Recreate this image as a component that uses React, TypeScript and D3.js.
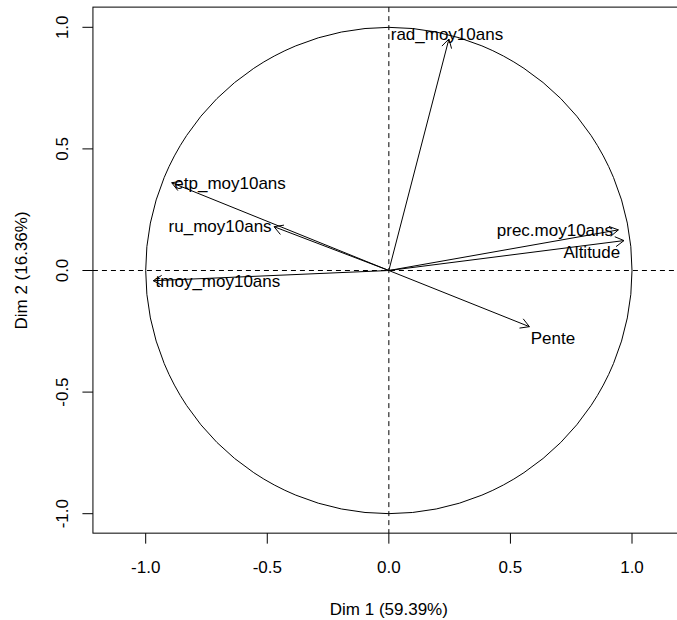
import React from "react";
import { scaleLinear } from "d3";

// variables factor map (PCA), coordinates on Dim 1 / Dim 2
const variables = ["rad_moy10ans", "etp_moy10ans", "ru_moy10ans", "tmoy_moy10ans", "prec.moy10ans", "Altitude", "Pente"];
const dim1 = [0.247, -0.893, -0.472, -0.969, 0.944, 0.967, 0.578];
const dim2 = [0.952, 0.361, 0.18, -0.042, 0.167, 0.123, -0.231];
// label anchors (after auto-placement), in factor units
const labelX = [0.239, -0.653, -0.694, -0.703, 0.683, 0.835, 0.675];
const labelY = [0.972, 0.36, 0.183, -0.043, 0.167, 0.076, -0.278];

const ticks = [-1, -0.5, 0, 0.5, 1];
const xTitle = "Dim 1 (59.39%)";
const yTitle = "Dim 2 (16.36%)";

const W = 677;
const H = 620;
const FONT = "'Liberation Sans', Arial, sans-serif";

const App = () => {
  const x = scaleLinear().domain([-1, 1]).range([145.7, 632]);
  const y = scaleLinear().domain([-1, 1]).range([513.7, 27.3]);
  const xlim = [-1.217, 1.217];
  const ylim = [-1.08, 1.083];
  const left = x(xlim[0]);
  const right = x(xlim[1]);
  const top = y(ylim[1]);
  const bottom = y(ylim[0]);
  const r = x(1) - x(0);
  const head = 10;

  const arrowHead = (x0: number, y0: number, x1: number, y1: number) => {
    const a = Math.atan2(y1 - y0, x1 - x0);
    const pts = [a + Math.PI - Math.PI / 6, a + Math.PI + Math.PI / 6].map(
      (t) => [x1 + head * Math.cos(t), y1 + head * Math.sin(t)]
    );
    return `M${pts[0][0]},${pts[0][1]}L${x1},${y1}L${pts[1][0]},${pts[1][1]}`;
  };

  return (
    <div style={{ position: "absolute", left: 0, top: 0 }}>
      <svg width={W} height={H} style={{ display: "block", fontFamily: FONT }}>
        <rect width={W} height={H} fill="#fff" />
        <defs>
          <clipPath id="plotclip">
            <rect x={left} y={top} width={right - left} height={bottom - top} />
          </clipPath>
        </defs>

        <g clipPath="url(#plotclip)">
          <circle cx={x(0)} cy={y(0)} r={r} fill="none" stroke="#000" strokeWidth={1} />
          <line x1={left} x2={right} y1={y(0)} y2={y(0)} stroke="#000" strokeDasharray="5,4" />
          <line x1={x(0)} x2={x(0)} y1={top} y2={bottom} stroke="#000" strokeDasharray="5,4" />

          {variables.map((v, i) => {
            const x0 = x(0), y0 = y(0), x1 = x(dim1[i]), y1 = y(dim2[i]);
            return (
              <g key={v} fill="none" stroke="#000" strokeWidth={1}>
                <line x1={x0} y1={y0} x2={x1} y2={y1} />
                <path d={arrowHead(x0, y0, x1, y1)} />
              </g>
            );
          })}

          {variables.map((v, i) => (
            <text
              key={v}
              x={x(labelX[i])}
              y={y(labelY[i])}
              dy="0.35em"
              textAnchor="middle"
              fontSize={17}
              fill="#000"
            >
              {v}
            </text>
          ))}
        </g>

        <rect x={left} y={top} width={right - left} height={bottom - top} fill="none" stroke="#000" strokeWidth={1} />

        {/* bottom axis */}
        {ticks.map((t) => (
          <g key={"x" + t}>
            <line x1={x(t)} x2={x(t)} y1={bottom} y2={bottom + 10.5} stroke="#000" />
            <text x={x(t)} y={567} dy="0.35em" textAnchor="middle" fontSize={17} fill="#000">
              {t.toFixed(1)}
            </text>
          </g>
        ))}

        {/* left axis */}
        {ticks.map((t) => (
          <g key={"y" + t}>
            <line x1={left - 10.5} x2={left} y1={y(t)} y2={y(t)} stroke="#000" />
            <text
              transform={`translate(62,${y(t)}) rotate(-90)`}
              dy="0.35em"
              textAnchor="middle"
              fontSize={17}
              fill="#000"
            >
              {t.toFixed(1)}
            </text>
          </g>
        ))}

        <text x={(x(0) + 0)} y={609} dy="0.35em" textAnchor="middle" fontSize={17} fill="#000">
          {xTitle}
        </text>
        <text transform={`translate(21,${y(0)}) rotate(-90)`} dy="0.35em" textAnchor="middle" fontSize={17} fill="#000">
          {yTitle}
        </text>
      </svg>
    </div>
  );
};

export default App;
